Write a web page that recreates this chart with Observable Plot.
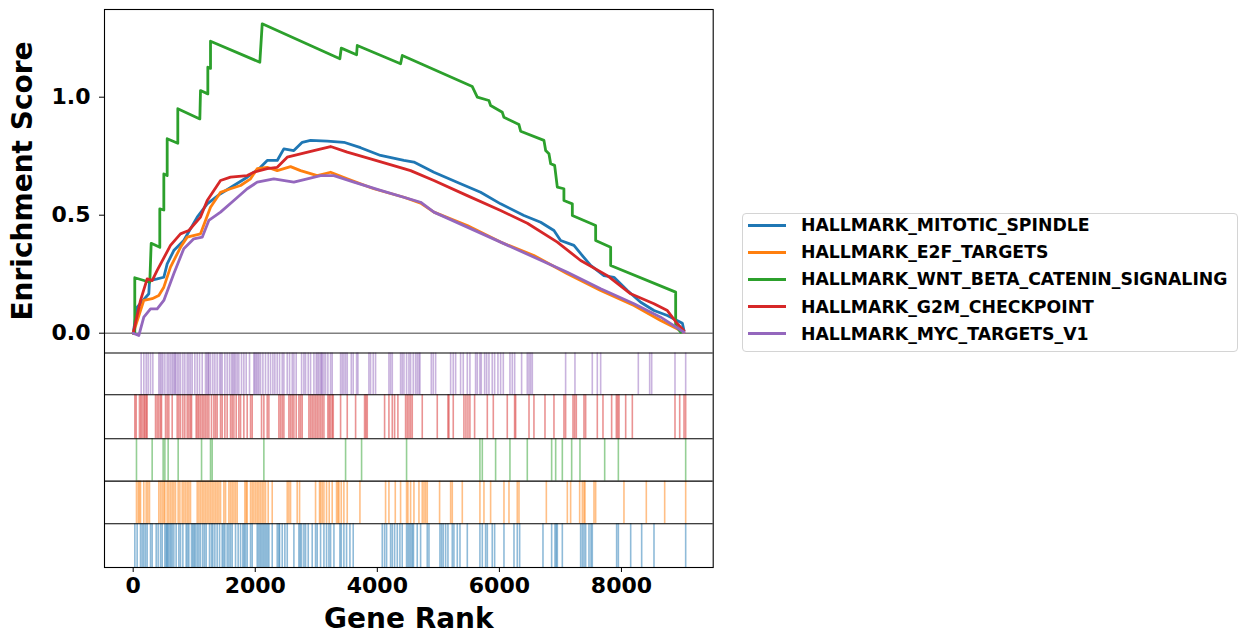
<!DOCTYPE html>
<html><head><meta charset="utf-8">
<script src="https://cdn.jsdelivr.net/npm/d3@7"></script>
<script src="https://cdn.jsdelivr.net/npm/@observablehq/plot@0.6"></script>
<style>
body{margin:0;background:#fff;font-family:"DejaVu Sans",sans-serif;}
#wrap{position:relative;width:1240px;height:635px;overflow:hidden;}
#legend{position:absolute;left:742px;top:213px;width:496px;height:139px;box-sizing:border-box;border:1px solid #d4d4d4;border-radius:4px;background:#fff;}
.item{position:absolute;left:0;width:100%;height:20px;}
.swatch{position:absolute;left:5px;top:8.5px;width:38px;height:3px;}
.lab{position:absolute;left:58px;top:0;line-height:20px;font-weight:bold;font-size:17.3px;white-space:nowrap;color:#000;}
#ylabel{position:absolute;left:23px;top:180.5px;transform:translate(-50%,-50%) rotate(-90deg);font-weight:bold;font-size:28px;line-height:28px;white-space:nowrap;color:#000;}
</style></head>
<body><div id="wrap"><div id="ylabel"></div><div id="legend"></div></div>
<script>
// ---------- data ----------
const setNames = ["HALLMARK_MITOTIC_SPINDLE","HALLMARK_E2F_TARGETS","HALLMARK_WNT_BETA_CATENIN_SIGNALING","HALLMARK_G2M_CHECKPOINT","HALLMARK_MYC_TARGETS_V1"];
const setColors = ["#1f77b4","#ff7f0e","#2ca02c","#d62728","#9467bd"];
const xTicks = [0,2000,4000,6000,8000];
const yTicks = [0,0.5,1.0];
const xLabel = "Gene Rank";
const yLabel = "Enrichment Score";

// running enrichment score, [rank, ES]
const esMitotic = [[0,0],[66,0.110],[256,0.167],[267,0.223],[393,0.230],[502,0.237],[557,0.294],[665,0.350],[829,0.393],[1049,0.492],[1213,0.548],[1431,0.591],[1649,0.626],[1868,0.661],[2086,0.703],[2196,0.732],[2360,0.732],[2468,0.781],[2632,0.774],[2770,0.809],[2906,0.817],[3180,0.814],[3452,0.809],[3725,0.786],[4053,0.753],[4435,0.732],[4599,0.725],[4927,0.682],[5364,0.633],[5692,0.597],[6020,0.548],[6402,0.499],[6676,0.470],[6894,0.435],[7003,0.393],[7221,0.372],[7359,0.329],[7495,0.287],[7713,0.244],[7877,0.237],[8097,0.181],[8315,0.131],[8533,0.096],[8752,0.075],[8998,0.042],[9024,0.011]];
const esE2F = [[0,0],[174,0.139],[311,0.146],[420,0.160],[502,0.195],[611,0.280],[775,0.364],[885,0.407],[1103,0.421],[1267,0.534],[1431,0.597],[1595,0.612],[1759,0.626],[1923,0.654],[2032,0.697],[2196,0.703],[2360,0.689],[2578,0.706],[2742,0.689],[3016,0.668],[3234,0.682],[3507,0.654],[3943,0.612],[4435,0.576],[4709,0.551],[4927,0.513],[5474,0.456],[6020,0.386],[6566,0.329],[7113,0.252],[7659,0.181],[8205,0.117],[8642,0.054],[9024,0.004]];
const esWnt = [[0,0],[26,0],[26,0.235],[272,0.216],[295,0.381],[436,0.364],[436,0.527],[502,0.522],[502,0.675],[557,0.668],[557,0.824],[731,0.805],[731,0.951],[1092,0.908],[1103,1.028],[1223,1.014],[1223,1.127],[1267,1.122],[1267,1.237],[2075,1.148],[2114,1.311],[3386,1.163],[3409,1.208],[3660,1.180],[3671,1.219],[4381,1.142],[4409,1.177],[5556,1.045],[5638,1.000],[5828,0.986],[5856,0.965],[6048,0.936],[6074,0.915],[6320,0.884],[6348,0.856],[6730,0.817],[6758,0.774],[6812,0.760],[6840,0.718],[6905,0.711],[6949,0.619],[7057,0.612],[7057,0.562],[7195,0.548],[7195,0.499],[7577,0.456],[7577,0.393],[7823,0.364],[7823,0.287],[8888,0.174],[8888,0.033],[8970,0.004]];
const esG2M = [[0,0],[120,0.139],[229,0.230],[311,0.223],[393,0.266],[611,0.372],[775,0.421],[911,0.435],[1103,0.492],[1213,0.562],[1431,0.647],[1595,0.661],[1868,0.668],[1977,0.682],[2196,0.697],[2360,0.703],[2524,0.746],[2742,0.760],[2960,0.774],[3234,0.791],[3507,0.767],[3889,0.739],[4435,0.697],[4545,0.689],[4927,0.647],[5474,0.583],[6020,0.520],[6458,0.466],[6949,0.386],[7331,0.308],[7769,0.244],[8151,0.167],[8533,0.125],[8752,0.096],[8916,0.040],[9024,0.011]];
const esMyc = [[0,0],[92,-0.010],[174,0.068],[284,0.103],[393,0.103],[502,0.139],[665,0.252],[829,0.358],[993,0.400],[1131,0.407],[1239,0.478],[1431,0.513],[1649,0.562],[1868,0.612],[2032,0.640],[2304,0.654],[2632,0.640],[2852,0.654],[3070,0.668],[3288,0.668],[3616,0.640],[4053,0.605],[4709,0.555],[4927,0.513],[6020,0.386],[7113,0.258],[7659,0.188],[8205,0.125],[8642,0.068],[9024,0.004]];

// hit positions (gene ranks) for each gene set
const hitsMitotic = [27,65,120,147,174,202,229,284,311,377,409,448,475,519,541,557,573,595,617,639,666,704,748,775,814,868,890,912,956,978,1000,1021,1049,1076,1103,1141,1169,1196,1251,1283,1305,1338,1376,1415,1458,1480,1502,1540,1568,1595,1622,1677,1720,1759,1797,1819,1841,1868,1923,1950,2032,2056,2080,2104,2128,2152,2176,2200,2223,2278,2360,2387,2398,2442,2485,2524,2633,2715,2737,2759,2797,2824,2868,2933,2988,3015,3070,3125,3168,3207,3234,3289,3387,3409,3452,3496,3551,3605,4081,4119,4152,4217,4245,4283,4327,4370,4408,4479,4503,4527,4551,4575,4592,4654,4709,4818,4846,5026,5053,5080,5119,5157,5228,5255,5310,5354,5474,5681,5720,5774,5802,5883,5922,6075,6239,6293,6332,6714,6856,6911,6932,6949,7031,7331,7359,7386,7413,7468,7501,7522,7921,7949,8151,8331,8533,9052];
const hitsE2F = [54,82,103,120,174,213,240,267,420,448,475,502,519,557,584,612,639,666,693,737,765,803,830,857,885,912,939,1049,1076,1103,1131,1158,1185,1212,1240,1267,1294,1322,1349,1376,1404,1431,1486,1513,1568,1595,1622,1650,1677,1704,1830,1852,1868,1923,1950,1977,2005,2032,2059,2086,2114,2141,2168,2212,2278,2524,2551,2578,2687,2726,2988,3053,3070,3097,3125,3168,3212,3261,3332,3354,3371,3409,3452,3507,3715,4135,4190,4294,4381,4479,4501,4545,4600,4682,4736,4764,4791,4818,5020,5201,5228,5392,5681,5747,5856,6075,6157,6293,6321,6769,7113,7167,7315,7359,7386,7402,7550,7577,8041,8407,8708,9052];
const hitsWnt = [54,311,491,519,573,737,1120,1267,1294,2141,3480,3742,4479,5681,5720,5938,6173,6457,6856,6922,7031,7184,7320,7725,7949,9052];
const hitsG2M = [27,49,103,125,147,174,191,213,229,366,393,420,448,464,530,557,584,639,721,748,775,814,846,885,912,939,956,1032,1054,1076,1103,1131,1158,1185,1212,1240,1283,1322,1349,1376,1431,1458,1502,1540,1595,1622,1650,1688,1731,1759,1813,1868,1923,1950,2103,2141,2196,2223,2387,2414,2442,2469,2551,2578,2606,2633,2671,2715,2742,2769,2879,2906,2933,2961,2988,3015,3043,3070,3097,3125,3190,3212,3234,3261,3278,3398,3507,3644,3791,3813,3835,4119,4190,4245,4283,4337,4463,4490,4518,4545,4572,4736,4982,5157,5173,5244,5419,5452,5485,5517,5594,5802,5900,6129,6249,6266,6485,6566,6747,6894,7058,7085,7206,7233,7260,7386,7413,7604,7697,7839,7916,7938,7960,8069,8178,8877,8954,9025,9052];
const hitsMyc = [131,174,213,245,284,322,420,442,464,486,519,557,584,612,639,661,683,693,721,748,775,814,846,885,912,939,967,1010,1049,1087,1131,1185,1207,1229,1240,1267,1305,1338,1376,1415,1436,1458,1502,1540,1578,1611,1633,1655,1677,1704,1731,1775,1813,1852,1906,1977,1994,2016,2037,2059,2086,2125,2168,2212,2250,2289,2321,2360,2398,2442,2469,2524,2562,2606,2633,2671,2759,2797,2824,2868,2906,2961,2999,3021,3043,3070,3086,3097,3125,3152,3190,3234,3261,3398,3425,3452,3480,3507,3573,3605,3660,3682,3862,3889,3933,3971,4190,4217,4245,4381,4408,4436,4479,4518,4545,4589,4627,4654,4682,4698,4884,4916,4955,5201,5244,5283,5364,5408,5474,5517,5610,5638,5681,5703,5758,5791,5829,5883,5922,5976,6020,6064,6173,6211,6250,6364,6457,6485,6512,6539,7085,7238,7522,7604,7659,8276,8462,8495,8877,9052];

const esSeries = [esMitotic, esE2F, esWnt, esG2M, esMyc];
const hitSeries = [hitsMitotic, hitsE2F, hitsWnt, hitsG2M, hitsMyc];

// ---------- layout ----------
const W = 1240, H = 635;
const mL = 104, mR = W - 712.7, mT = 9, mB = H - 567;
const xDom = [-470, 9503];
const yDom = [-0.9928, 1.3716];
const pyToY = py => yDom[1] - (py - mT) / (H - mT - mB) * (yDom[1] - yDom[0]);
// row borders of the hit panel in pixels (top to bottom)
const rowPx = [352.5, 394.3, 438.3, 480.6, 523.2, 567];
const rowY = rowPx.map(pyToY);
// rows from top: MYC, G2M, WNT, E2F, MITOTIC
const rowOrder = [4, 3, 2, 1, 0];

const hitMarks = rowOrder.map((si, r) =>
  Plot.ruleX(hitSeries[si], {
    x: d => d, y1: () => rowY[r], y2: () => rowY[r + 1],
    stroke: setColors[si], strokeOpacity: 0.5, strokeWidth: 1.6
  })
);
const lineMarks = esSeries.map((s, i) =>
  Plot.line(s, {x: d => d[0], y: d => d[1], stroke: setColors[i], strokeWidth: 2.8, strokeLinejoin: "round"})
);

const chart = Plot.plot({
  width: W, height: H,
  marginLeft: mL, marginRight: mR, marginTop: mT, marginBottom: mB,
  x: {domain: xDom},
  y: {domain: yDom},
  style: {fontFamily: '"DejaVu Sans", sans-serif', fontWeight: "bold", background: "#fff", overflow: "visible", color: "#000"},
  marks: [
    ...hitMarks,
    Plot.ruleY([0], {stroke: "#808080", strokeWidth: 1.5}),
    ...lineMarks,
    Plot.ruleY(rowY.slice(0, 5), {stroke: "#000", strokeWidth: 1.1}),
    Plot.frame({stroke: "#000", strokeWidth: 1.1}),
    Plot.axisX({ticks: xTicks, tickSize: 5, tickPadding: 5, fontSize: 22, fontWeight: "bold", label: null, tickFormat: d => String(d)}),
    Plot.axisY({ticks: yTicks, tickSize: 5, tickPadding: 9, fontSize: 22, fontWeight: "bold", label: null, tickFormat: d3.format(".1f")}),
    Plot.text([xLabel], {frameAnchor: "bottom", dy: 52, fontSize: 28, fontWeight: "bold", lineAnchor: "middle", fill: "#000"})
  ]
});
const wrap = document.getElementById("wrap");
wrap.insertBefore(chart, wrap.firstChild);
document.getElementById("ylabel").textContent = yLabel;

// ---------- legend ----------
const legend = document.getElementById("legend");
setNames.forEach((name, i) => {
  const item = document.createElement("div");
  item.className = "item";
  item.style.top = (1 + i * 27.2) + "px";
  const sw = document.createElement("div");
  sw.className = "swatch";
  sw.style.background = setColors[i];
  const lab = document.createElement("div");
  lab.className = "lab";
  lab.textContent = name;
  item.appendChild(sw); item.appendChild(lab);
  legend.appendChild(item);
});
</script>
</body></html>
